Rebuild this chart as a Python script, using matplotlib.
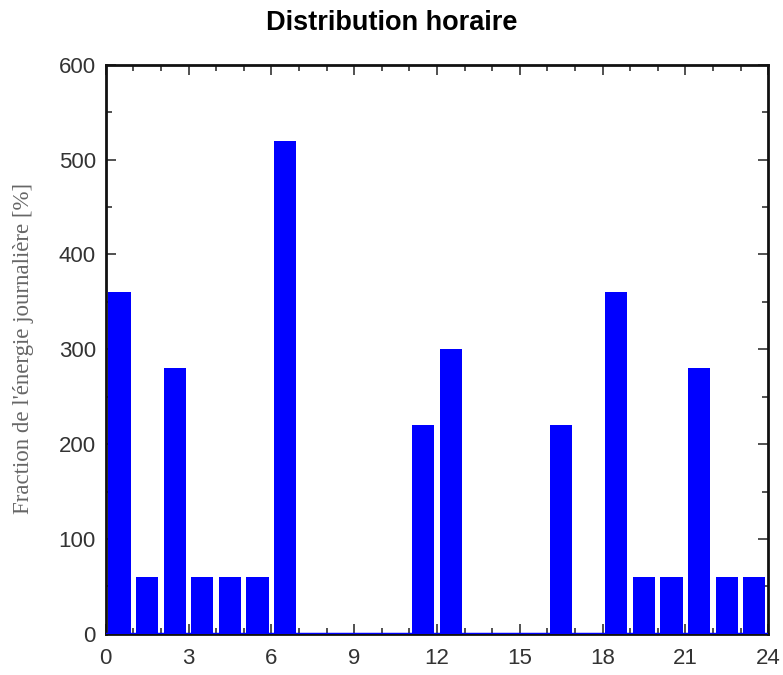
import numpy as np
import matplotlib
matplotlib.use('Agg')
import matplotlib.pyplot as plt
from matplotlib.ticker import MultipleLocator

# Données horaires
heures = np.arange(24)
valeurs = [360, 60, 280, 60, 60, 60, 520, 0, 0, 0, 0, 220,
           300, 0, 0, 0, 220, 0, 360, 60, 60, 280, 60, 60]

plt.rcParams['font.family'] = ['Liberation Sans', 'DejaVu Sans']

fig = plt.figure(figsize=(7.83, 6.75), dpi=100)
ax = fig.add_axes([0.135, 0.061, 0.846, 0.843])

ax.bar(heures + 0.5, valeurs, width=0.8, color='#0000ff', zorder=2)
ax.axhline(0, color='#0000ff', lw=2.5, zorder=3)

ax.set_xlim(0, 24)
ax.set_ylim(0, 600)
ax.xaxis.set_major_locator(MultipleLocator(3))
ax.xaxis.set_minor_locator(MultipleLocator(1))
ax.yaxis.set_major_locator(MultipleLocator(100))
ax.yaxis.set_minor_locator(MultipleLocator(50))
ax.tick_params(which='both', direction='in', top=True, right=True, width=1.2,
               colors='#333333', labelsize=16)
ax.tick_params(which='major', length=7)
ax.tick_params(which='minor', length=4)
ax.tick_params(axis='x', pad=10)
ax.tick_params(axis='y', pad=7)
for s in ax.spines.values():
    s.set_linewidth(2)
    s.set_color('#111111')

fig.text(24 / 783, 0.484, "Fraction de l'énergie journalière [%]",
         rotation=90, ha='center', va='center', fontsize=16.5,
         color='#666666', family=['Liberation Serif', 'DejaVu Serif'])
fig.suptitle('Distribution horaire', fontsize=19.5, fontweight='bold', y=0.985)

plt.savefig('out.png', dpi=100)
plt.close()
